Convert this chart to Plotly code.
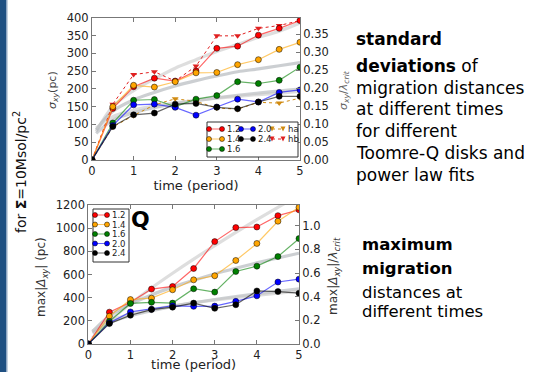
import plotly.graph_objects as go

W, H = 560, 372

# ---------------- data ----------------
t = [0, 0.5, 1, 1.5, 2, 2.5, 3, 3.5, 4, 4.5, 5]
t_fit = [0.1, 0.5, 1, 1.5, 2, 2.5, 3, 3.5, 4, 4.5, 5]

# standard deviation (pc)
sd_q12 = [0, 145, 206, 230, 222, 250, 314, 320, 351, 370, 392]
sd_q14 = [0, 150, 210, 205, 220, 245, 246, 268, 282, 311, 331]
sd_q16 = [0, 104, 168, 170, 150, 171, 181, 220, 215, 224, 261]
sd_q20 = [0, 97, 155, 157, 148, 126, 149, 171, 163, 190, 197]
sd_q24 = [0, 94, 127, 132, 157, 159, 148, 144, 163, 179, 179]
sd_ha = [0, 93, 125, 155, 172, 165, 146, 143, 162, 160, 174]
sd_hb = [0, 157, 240, 248, 222, 264, 349, 349, 370, 378, 392]

sd_fitA = [80, 150, 195, 228, 258, 282, 305, 325, 345, 362, 385]
sd_fitB = [85, 137, 169, 190, 208, 223, 236, 248, 256, 265, 274]
sd_fitC = [75, 112, 133, 147, 158, 167, 175, 182, 188, 194, 199]
sd_fitD = [90, 122, 140, 152, 161, 168, 174, 179, 184, 188, 193]

# maximum migration (pc)
mx_q12 = [0, 275, 360, 474, 497, 652, 884, 1005, 1010, 1108, 1158]
mx_q14 = [0, 240, 384, 396, 468, 554, 589, 721, 868, 1060, 1180]
mx_q16 = [0, 195, 350, 360, 353, 477, 448, 626, 672, 755, 910]
mx_q20 = [0, 182, 277, 301, 330, 325, 327, 368, 416, 535, 560]
mx_q24 = [0, 176, 248, 297, 318, 353, 308, 339, 458, 453, 439]

mx_fitA = [54, 199, 348, 484, 611, 733, 850, 963, 1073, 1180, 1284]
mx_fitB = [107, 242, 345, 424, 491, 550, 605, 654, 700, 743, 784]
mx_fitC = [94, 183, 244, 287, 325, 357, 384, 410, 433, 455, 477]
mx_fitD = [111, 199, 255, 295, 327, 356, 379, 400, 420, 438, 456]

q_labels = ["1.2", "1.4", "1.6", "2.0", "2.4"]
h_labels = ["ha", "hb"]
y_ticks_sd = [0, 50, 100, 150, 200, 250, 300, 350, 400]
y_ticks_sd_r = [0.0, 0.05, 0.10, 0.15, 0.20, 0.25, 0.30, 0.35]
y_ticks_mx = [0, 200, 400, 600, 800, 1000, 1200]
y_ticks_mx_r = [0.0, 0.2, 0.4, 0.6, 0.8, 1.0]
x_ticks = [0, 1, 2, 3, 4, 5]

# ---------------- styles ----------------
q_colors = ["#ff0000", "#ffa500", "#008000", "#0000ff", "#000000"]
q_line = ["rgba(255,0,0,0.6)", "rgba(255,165,0,0.6)", "rgba(0,128,0,0.6)",
          "rgba(0,0,255,0.6)", "rgba(0,0,0,0.6)"]
h_colors = ["#d08a10", "#e02020"]
fit_colors = ["rgba(200,200,200,0.6)", "rgba(170,175,180,0.6)",
              "rgba(175,180,185,0.6)", "rgba(200,200,200,0.6)"]

def px(x):
    return x / W

def py(y):
    return 1 - y / H

fig = go.Figure()

for ys, c in zip([sd_fitA, sd_fitB, sd_fitC, sd_fitD], fit_colors):
    fig.add_trace(go.Scatter(x=t_fit, y=ys, mode="lines", line=dict(color=c, width=3.2, shape="spline"),
                             xaxis="x", yaxis="y", showlegend=False, hoverinfo="skip"))
for ys, c in zip([mx_fitA, mx_fitB, mx_fitC, mx_fitD], fit_colors):
    fig.add_trace(go.Scatter(x=t_fit, y=ys, mode="lines", line=dict(color=c, width=3.2, shape="spline"),
                             xaxis="x2", yaxis="y3", showlegend=False, hoverinfo="skip"))

for ys, c in zip([sd_ha, sd_hb], h_colors):
    fig.add_trace(go.Scatter(x=t, y=ys, mode="lines+markers",
                             line=dict(color=c, width=1, dash="dot"),
                             marker=dict(symbol="triangle-down", size=6, color=c, line=dict(width=0)),
                             xaxis="x", yaxis="y", showlegend=False))
for ys, c, lc in zip([sd_q12, sd_q14, sd_q16, sd_q20, sd_q24], q_colors, q_line):
    fig.add_trace(go.Scatter(x=t, y=ys, mode="lines+markers",
                             line=dict(color=lc, width=1.2),
                             marker=dict(size=6, color=c, line=dict(color="black", width=0.5)),
                             xaxis="x", yaxis="y", showlegend=False))
for ys, c, lc in zip([mx_q12, mx_q14, mx_q16, mx_q20, mx_q24], q_colors, q_line):
    fig.add_trace(go.Scatter(x=t, y=ys, mode="lines+markers",
                             line=dict(color=lc, width=1.2),
                             marker=dict(size=6, color=c, line=dict(color="black", width=0.5)),
                             xaxis="x2", yaxis="y3", showlegend=False))
fig.add_trace(go.Scatter(x=[None], y=[None], xaxis="x", yaxis="y2", showlegend=False))
fig.add_trace(go.Scatter(x=[None], y=[None], xaxis="x2", yaxis="y4", showlegend=False))

axcol = "#777"
tickfont = dict(family="DejaVu Sans", size=11.5, color="#222")
common_x = dict(range=[0, 5], tickvals=x_ticks, ticks="inside", ticklen=4, tickcolor=axcol,
                showline=True, linecolor=axcol, linewidth=1, mirror="ticks", showgrid=False,
                zeroline=False, tickfont=tickfont, automargin=False)
common_y = dict(ticks="inside", ticklen=4, tickcolor=axcol, showline=True, linecolor=axcol,
                linewidth=1, showgrid=False, zeroline=False, tickfont=tickfont, automargin=False)
xtitle_font = dict(family="DejaVu Sans", size=13, color="#222")

fig.update_layout(
    width=W, height=H, margin=dict(l=0, r=0, t=0, b=0, autoexpand=False),
    paper_bgcolor="white", plot_bgcolor="white", showlegend=False,
    xaxis=dict(domain=[px(92), px(300)], anchor="y",
               title=dict(text="time (period)", font=xtitle_font, standoff=0), **common_x),
    yaxis=dict(domain=[py(160), py(17.7)], anchor="x", range=[0, 400], tickvals=y_ticks_sd, **common_y),
    yaxis2=dict(overlaying="y", side="right", anchor="x", range=[0, 0.396], tickvals=y_ticks_sd_r,
                tickformat=".2f", **common_y),
    xaxis2=dict(domain=[px(88.3), px(299)], anchor="y3",
                title=dict(text="time (period)", font=xtitle_font, standoff=0), **common_x),
    yaxis3=dict(domain=[py(344), py(205)], anchor="x2", range=[0, 1200], tickvals=y_ticks_mx, **common_y),
    yaxis4=dict(overlaying="y3", side="right", anchor="x2", range=[0, 1.175], tickvals=y_ticks_mx_r,
                tickformat=".1f", **common_y),
)

ann = []
shapes = []
shapes.append(dict(type="rect", xref="paper", yref="paper", x0=0, x1=px(6.5), y0=0, y1=1,
                   fillcolor="#1f5082", line=dict(width=0), layer="above"))
shapes.append(dict(type="rect", xref="paper", yref="paper", x0=px(6.5), x1=px(7.5), y0=0, y1=1,
                   fillcolor="#8fa8c4", line=dict(width=0), layer="above"))

def rot_label(text, x, y, size, color):
    ann.append(dict(text=text, x=px(x), y=py(y), xref="paper", yref="paper", textangle=-90,
                    showarrow=False, xanchor="center", yanchor="middle",
                    font=dict(family="DejaVu Sans", size=size, color=color)))

rot_label("for <b>Σ</b>=10Msol/pc<sup>2</sup>", 20, 172, 14, "#111")
rot_label("<i>σ<sub>xy</sub></i>(pc)", 53, 90, 11, "#444")
rot_label("<i>σ<sub>xy</sub></i>/<i>λ<sub>crit</sub></i>", 344, 90, 11, "#666")
rot_label("max|<i>Δ<sub>xy</sub></i>| (pc)", 42, 277, 12, "#333")
rot_label("max|<i>Δ<sub>xy</sub></i>|/<i>λ<sub>crit</sub></i>", 334, 276, 12, "#333")

ann.append(dict(text="<b>Q</b>", x=px(129), y=py(219), xref="paper", yref="paper", showarrow=False,
                xanchor="left", yanchor="middle", font=dict(family="DejaVu Sans", size=22, color="black")))

tf = "DejaVu Sans"
lines_top = [("<b>standard</b>", 39), ("<b>deviations</b> of", 66), ("migration distances", 88),
             ("at different times", 109), ("for different", 131), ("Toomre-Q disks and", 153),
             ("power law fits", 175)]
for txt, yy in lines_top:
    ann.append(dict(text=txt, x=px(355), y=py(yy), xref="paper", yref="paper", showarrow=False,
                    xanchor="left", yanchor="middle", borderpad=0, font=dict(family=tf, size=17, color="black")))
lines_bot = [("<b>maximum</b>", 244), ("<b>migration</b>", 268), ("distances at", 292),
             ("different times", 311)]
for txt, yy in lines_bot:
    ann.append(dict(text=txt, x=px(361), y=py(yy), xref="paper", yref="paper", showarrow=False,
                    xanchor="left", yanchor="middle", borderpad=0, font=dict(family=tf, size=16.5, color="black")))

def legend_item(x0, x1, y, color, linecolor, label, sym="circle", dash="solid"):
    shapes.append(dict(type="line", xref="paper", yref="paper", x0=px(x0), x1=px(x1), y0=py(y), y1=py(y),
                       line=dict(color=linecolor, width=1, dash=dash)))
    r = 2.5
    for xx in (x0, x1):
        if sym == "circle":
            shapes.append(dict(type="circle", xref="paper", yref="paper",
                               x0=px(xx - r), x1=px(xx + r), y0=py(y + r), y1=py(y - r),
                               fillcolor=color, line=dict(color="black", width=0.5)))
        else:
            path = "M{:.5f},{:.5f} L{:.5f},{:.5f} L{:.5f},{:.5f} Z".format(
                px(xx - r), py(y - r), px(xx + r), py(y - r), px(xx), py(y + r))
            shapes.append(dict(type="path", xref="paper", yref="paper", path=path,
                               fillcolor=color, line=dict(width=0)))
    ann.append(dict(text=label, x=px(x1 + 3.5), y=py(y), xref="paper", yref="paper", showarrow=False,
                    xanchor="left", yanchor="middle", borderpad=0,
                    font=dict(family="DejaVu Sans", size=8.5, color="#222")))

shapes.append(dict(type="rect", xref="paper", yref="paper", x0=px(207), x1=px(298), y0=py(157), y1=py(122),
                   fillcolor="white", line=dict(color="#333", width=1)))
rows_top = [129, 139, 149]
for i, (lab, c, lc) in enumerate(zip(q_labels, q_colors, q_line)):
    col, row = (0, i) if i < 3 else (1, i - 3)
    xs = [(209, 222), (241, 253)][col]
    legend_item(xs[0], xs[1], rows_top[row], c, lc, lab)
for i, (lab, c) in enumerate(zip(h_labels, h_colors)):
    legend_item(272, 283, rows_top[i], c, c, lab, sym="tri", dash="dot")

shapes.append(dict(type="rect", xref="paper", yref="paper", x0=px(93), x1=px(129), y0=py(262), y1=py(209),
                   fillcolor="white", line=dict(color="#333", width=1)))
rows_bot = [215, 224.5, 234, 243.5, 253]
for lab, c, lc, yy in zip(q_labels, q_colors, q_line, rows_bot):
    legend_item(95, 107, yy, c, lc, lab)

fig.update_layout(annotations=ann, shapes=shapes)
fig.write_html("out.html", config={"displayModeBar": False},
               post_script="document.body.style.margin='0';document.body.style.overflow='hidden';")
